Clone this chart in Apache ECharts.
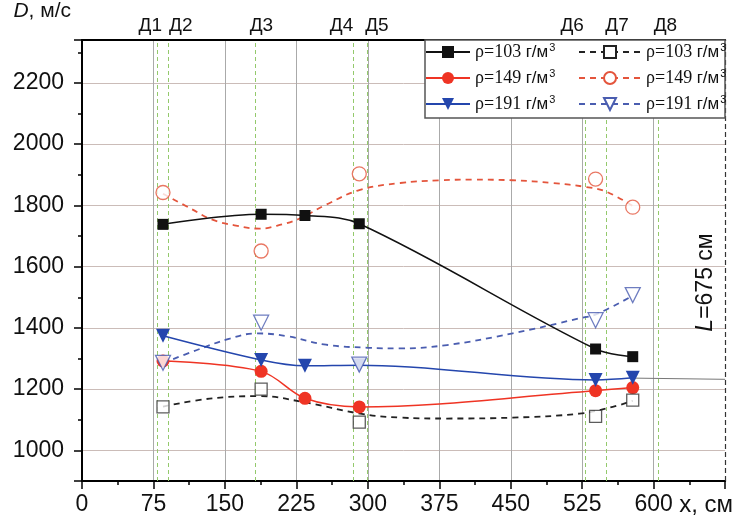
<!DOCTYPE html>
<html>
<head>
<meta charset="utf-8">
<script src="https://cdn.jsdelivr.net/npm/echarts@6/dist/echarts.min.js"></script>
<style>
  html, body { margin: 0; padding: 0; background: #fff; }
  #chart { width: 736px; height: 517px; }
</style>
</head>
<body>
<div id="chart"></div>
<script>
// Detonation velocity D along the charge, measured points (x in cm, D in m/s)
const xSolid = [85, 188, 234, 291, 539, 578];
const d103 = [1738, 1771, 1767, 1740, 1331, 1306];
const d149 = [1292, 1258, 1170, 1142, 1195, 1205];
const d191 = [1374, 1295, 1276, 1278, 1230, 1237];

// Second measurement set (hollow markers)
const xOpen = [85, 188, 291, 539, 578];
const o103 = [1142, 1200, 1092, 1111, 1164];
const o149 = [1842, 1651, 1903, 1886, 1794];
const o191 = [1286, 1417, 1280, 1425, 1507];

// Fitted trend curves for the second set, sampled along x
const fit103X = [85, 134, 187, 232, 292, 334, 383, 452, 522, 557, 578];
const fit103D = [1143, 1169, 1177, 1158, 1120, 1107, 1104, 1107, 1120, 1142, 1162];
const fit149X = [85, 115, 136, 160, 186, 210, 229, 256, 291, 334, 375, 410, 452, 494, 529, 550, 578];
const fit149D = [1838, 1788, 1754, 1735, 1724, 1738, 1758, 1802, 1850, 1873, 1882, 1884, 1882, 1873, 1860, 1845, 1798];
const fit191X = [85, 120, 155, 183, 215, 256, 300, 333, 383, 452, 522, 540, 578];
const fit191D = [1285, 1327, 1365, 1382, 1373, 1345, 1335, 1333, 1344, 1382, 1431, 1445, 1505];

// Continuation of the ρ=191 curve to the charge end
const tailX = [578, 675];
const tailD = [1236, 1232];

// Sensor positions
const sensorNames = ['Д1', 'Д2', 'Д3', 'Д4', 'Д5', 'Д6', 'Д7', 'Д8'];
const sensorX = [79, 90, 182, 285, 299, 528, 550, 605];

// Charge length
const chargeLength = 675;

// Legend labels
const densities = ['103', '149', '191'];

// ---- styling / layout ----
const SANS = 'Liberation Sans, Arial, sans-serif';
const SERIF = 'Liberation Serif, Times New Roman, serif';
const sensorLabelShift = [-7, 13, 6, -12, 10, -13, 11, 7];

const pairs = (xs, ys) => xs.map((x, i) => [x, ys[i]]);

const sensorLines = sensorX.map((x, i) => {
  const s = sensorLabelShift[i];
  return {
    xAxis: x,
    lineStyle: { color: '#94c96c', type: [4, 3], width: 1 },
    label: {
      show: true, position: 'end', distance: 5,
      formatter: sensorNames[i],
      fontFamily: SANS, fontSize: 19, color: '#111',
      padding: s > 0 ? [0, 0, 0, 2 * s] : [0, -2 * s, 0, 0]
    }
  };
});

const endLine = {
  xAxis: chargeLength,
  lineStyle: { color: '#333', type: [5, 3], width: 1.2 },
  label: {
    show: true, position: 'insideMiddleTop', distance: 8,
    formatter: () => '{i|L}=' + chargeLength + ' см',
    fontFamily: SANS, fontSize: 23, color: '#111',
    padding: [0, 44, 0, 0],
    rich: { i: { fontStyle: 'italic', fontFamily: SANS, fontSize: 23, color: '#111' } }
  }
};

const legendText = {};
densities.forEach(d => {
  legendText['a' + d] = '{g|ρ=' + d + ' }{u|г/м}{s|3}';
  legendText['b' + d] = '{g|ρ=' + d + ' }{u|г/м}{s|3}';
});
const legendTextStyle = {
  color: '#111', fontFamily: SERIF, fontSize: 18,
  rich: {
    g: { fontFamily: SERIF, fontSize: 18, color: '#111', lineHeight: 18 },
    u: { fontFamily: SANS, fontSize: 17, color: '#111', lineHeight: 18 },
    s: { fontFamily: SANS, fontSize: 11, color: '#111', lineHeight: 18, padding: [0, 0, 9, 1] }
  }
};

const BLACK = '#111';
const RED = '#ef3424';
const BLUE = '#2446ad';
const RED_O = '#e4553c';
const BLUE_O = '#4a5db0';

const option = {
  animation: false,
  backgroundColor: '#fff',
  grid: { left: 82, right: 10.5, top: 40, bottom: 36 },
  graphic: [{
    type: 'rect', z: 3,
    shape: { x: 425, y: 40, width: 300, height: 78 },
    style: { fill: '#fff', stroke: '#555', lineWidth: 1.5 }
  }],
  legend: [
    {
      data: ['a103', 'a149', 'a191'], orient: 'vertical', left: 425, top: 42,
      itemWidth: 44, itemHeight: 15, itemGap: 6, padding: 0,
      formatter: n => legendText[n], textStyle: legendTextStyle, selectedMode: false
    },
    {
      data: ['b103', 'b149', 'b191'], orient: 'vertical', left: 578, top: 42,
      itemWidth: 62, itemHeight: 15, itemGap: 6, padding: 0,
      formatter: n => legendText[n], textStyle: legendTextStyle, selectedMode: false
    }
  ],
  xAxis: [
    {
      type: 'value', min: 0, max: chargeLength, interval: 75, position: 'bottom',
      axisLine: { show: true, onZero: false, lineStyle: { color: '#000', width: 2 } },
      axisTick: { show: true, length: 8, lineStyle: { color: '#000', width: 1.5 } },
      minorTick: { show: true, splitNumber: 2, length: 4, lineStyle: { color: '#000', width: 1.5 } },
      splitLine: { show: true, showMinLine: false, showMaxLine: false, lineStyle: { color: '#aaa', width: 1 } },
      axisLabel: {
        margin: 12, fontFamily: SANS, fontSize: 23, color: '#111',
        formatter: v => (v === chargeLength ? '' : String(v))
      },
      name: '{n|x, см}', nameLocation: 'end', nameGap: -46,
      nameTextStyle: {
        fontFamily: SANS, fontSize: 24, color: '#111', padding: [48, 0, 0, 0],
        rich: { n: { fontFamily: SANS, fontSize: 24, color: '#111' } }
      }
    },
    {
      type: 'value', min: 0, max: chargeLength, position: 'top',
      axisLine: { show: true, onZero: false, lineStyle: { color: '#000', width: 2 } },
      axisTick: { show: false }, axisLabel: { show: false }, splitLine: { show: false }
    }
  ],
  yAxis: [{
    type: 'value', min: 900, max: 2340, splitNumber: 7,
    axisLine: { show: true, onZero: false, lineStyle: { color: '#000', width: 2 } },
    axisTick: { show: true, length: 8, lineStyle: { color: '#000', width: 1.5 } },
    minorTick: { show: true, splitNumber: 2, length: 4, lineStyle: { color: '#000', width: 1.5 } },
    splitLine: { show: true, lineStyle: { color: '#cbbcb8', width: 1 } },
    axisLabel: {
      margin: 18, fontFamily: SANS, fontSize: 23, color: '#111',
      formatter: v => (v % 200 === 0 ? String(v) : '')
    },
    name: '{i|D}, м/с', nameLocation: 'end', nameGap: 18,
    nameTextStyle: {
      align: 'right', padding: [0, 11, 0, 0], fontFamily: SANS, fontSize: 21, color: '#111',
      rich: { i: { fontStyle: 'italic', fontFamily: SANS, fontSize: 21, color: '#111' } }
    }
  }],
  series: [
    {
      name: 'a103', type: 'line', z: 4, data: pairs(xSolid, d103), smooth: 0.35,
      symbol: 'rect', symbolSize: 11,
      lineStyle: { color: BLACK, width: 1.5 }, itemStyle: { color: BLACK },
      markLine: { silent: true, symbol: ['none', 'none'], z: 1, data: sensorLines.concat([endLine]) }
    },
    {
      name: 'a149', type: 'line', z: 4, data: pairs(xSolid, d149), smooth: 0.35,
      symbol: 'circle', symbolSize: 13,
      lineStyle: { color: RED, width: 1.5 }, itemStyle: { color: RED }
    },
    {
      name: 'a191', type: 'line', z: 4, data: pairs(xSolid, d191), smooth: 0.35,
      symbol: 'triangle', symbolRotate: 180, symbolSize: 14,
      lineStyle: { color: BLUE, width: 1.5 }, itemStyle: { color: BLUE }
    },
    {
      type: 'line', z: 3, data: pairs(tailX, tailD), symbol: 'none', silent: true,
      lineStyle: { color: '#777', width: 1 }
    },
    {
      name: 'b103', type: 'line', z: 3, data: pairs(fit103X, fit103D), smooth: 0.4,
      showSymbol: false, symbol: 'emptyRect',
      lineStyle: { color: '#222', width: 1.8, type: [6, 5] }, itemStyle: { color: '#222' }
    },
    {
      name: 'b149', type: 'line', z: 3, data: pairs(fit149X, fit149D), smooth: 0.4,
      showSymbol: false, symbol: 'emptyCircle',
      lineStyle: { color: RED_O, width: 1.8, type: [6, 5] }, itemStyle: { color: RED_O }
    },
    {
      name: 'b191', type: 'line', z: 3, data: pairs(fit191X, fit191D), smooth: 0.4,
      showSymbol: false, symbol: 'emptyTriangle', symbolRotate: 180,
      lineStyle: { color: BLUE_O, width: 1.8, type: [6, 5] }, itemStyle: { color: BLUE_O }
    },
    {
      name: 'b103', type: 'scatter', z: 5, data: pairs(xOpen, o103),
      symbol: 'rect', symbolSize: 12,
      itemStyle: { color: '#fff', borderColor: '#333', borderWidth: 1.3 }
    },
    {
      name: 'b149', type: 'scatter', z: 5, data: pairs(xOpen, o149),
      symbol: 'circle', symbolSize: 14,
      itemStyle: { color: '#fff', borderColor: RED_O, borderWidth: 1.3 }
    },
    {
      name: 'b191', type: 'scatter', z: 5, data: pairs(xOpen, o191),
      symbol: 'triangle', symbolRotate: 180, symbolSize: 15,
      itemStyle: { color: '#fff', borderColor: BLUE_O, borderWidth: 1.3 }
    }
  ]
};

const chart = echarts.init(document.getElementById('chart'), null, { renderer: 'canvas' });
chart.setOption(option);
</script>
</body>
</html>
